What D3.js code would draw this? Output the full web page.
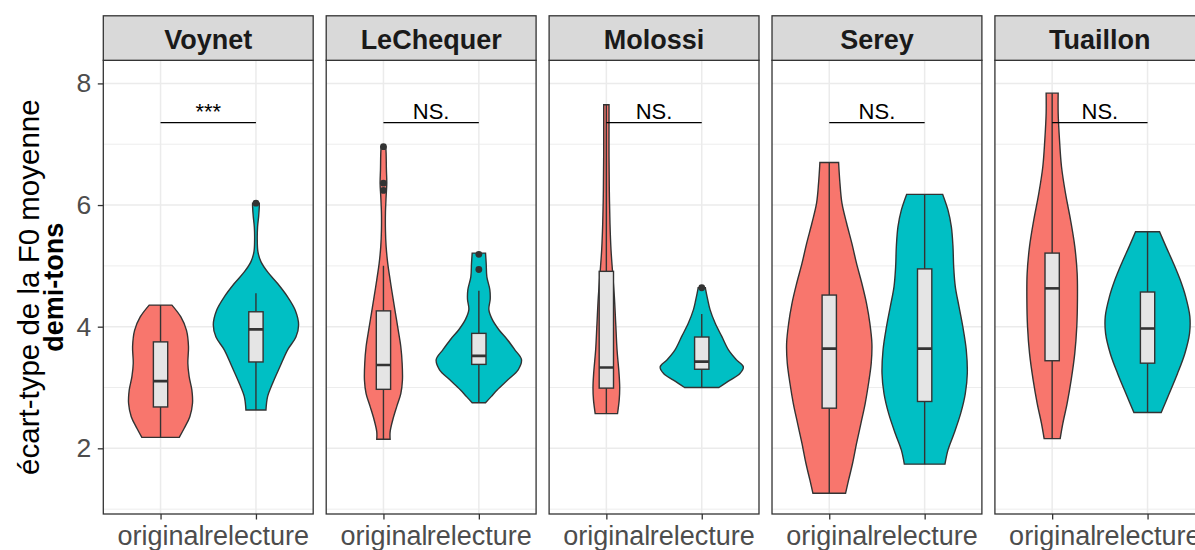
<!DOCTYPE html>
<html>
<head>
<meta charset="utf-8">
<script src="https://cdnjs.cloudflare.com/ajax/libs/d3/7.8.5/d3.min.js"></script>
<style>
  body { margin: 0; background: #fff; }
  svg { display: block; font-family: "Liberation Sans", Arial, Helvetica, sans-serif; }
</style>
</head>
<body>
<svg id="chart" width="1195" height="550"></svg>
<script>
"use strict";

// Data //////////////////////////////////////////////////
var speakers = ["Voynet", "LeChequer", "Molossi", "Serey", "Tuaillon"];
var conditions = ["original", "relecture"];
var yTicks = [2, 4, 6, 8];
var yMinor = [1, 3, 5, 7];
var signif = ["***", "NS.", "NS.", "NS.", "NS."];
var signifY = 7.355;

// boxplot stats: [lower whisker, q1, median, q3, upper whisker]
var boxOriginal = [
  [2.18, 2.68, 3.105, 3.75, 4.355],
  [2.15, 2.97, 3.37, 4.26, 5.0],
  [2.57, 2.99, 3.33, 4.91, 7.65],
  [1.26, 2.66, 3.64, 4.52, 6.70],
  [2.16, 3.44, 4.63, 5.21, 7.84]
];
var boxRelecture = [
  [2.63, 3.42, 3.955, 4.245, 4.55],
  [2.75, 3.38, 3.52, 3.89, 4.59],
  [3.0, 3.30, 3.425, 3.83, 4.21],
  [1.74, 2.77, 3.64, 4.95, 6.175],
  [2.59, 3.40, 3.97, 4.57, 5.56]
];
var outOriginal = [[], [6.96, 6.36, 6.24], [], [], []];
var outRelecture = [[6.03], [5.19, 4.94], [4.64], [], []];

// violin density: [value, density]
var violinOriginal = [
  [[4.355,0.119],[4.16,0.213],[3.94,0.272],[3.67,0.293],[3.40,0.286],[3.18,0.30],[2.96,0.328],[2.74,0.335],[2.52,0.307],[2.33,0.248],[2.18,0.196]],
  [[6.96,0.024],[6.85,0.028],[6.58,0.031],[6.36,0.035],[6.14,0.028],[5.87,0.021],[5.59,0.021],[5.32,0.028],[5.04,0.045],[4.77,0.07],[4.49,0.098],[4.22,0.126],[3.95,0.154],[3.67,0.182],[3.40,0.196],[3.12,0.199],[2.90,0.182],[2.69,0.14],[2.47,0.098],[2.27,0.07],[2.15,0.07]],
  [[7.65,0.028],[7.35,0.028],[6.80,0.028],[6.25,0.031],[5.70,0.038],[5.26,0.049],[4.88,0.066],[4.49,0.084],[4.06,0.098],[3.62,0.112],[3.23,0.133],[3.0,0.14],[2.8,0.135],[2.57,0.117]],
  [[6.70,0.098],[6.36,0.112],[6.03,0.133],[5.70,0.182],[5.37,0.237],[5.04,0.286],[4.71,0.342],[4.38,0.391],[4.05,0.426],[3.72,0.447],[3.40,0.44],[3.07,0.412],[2.74,0.377],[2.41,0.332],[2.08,0.286],[1.75,0.244],[1.48,0.203],[1.26,0.171]],
  [[7.84,0.063],[7.51,0.063],[7.07,0.077],[6.63,0.098],[6.19,0.14],[5.76,0.192],[5.32,0.237],[4.88,0.262],[4.44,0.265],[4.0,0.258],[3.56,0.237],[3.12,0.199],[2.74,0.157],[2.41,0.112],[2.16,0.084]]
];
var violinRelecture = [
  [[6.03,0.035],[5.97,0.035],[5.81,0.028],[5.64,0.017],[5.42,0.014],[5.23,0.021],[5.07,0.052],[4.90,0.122],[4.71,0.227],[4.49,0.332],[4.27,0.412],[4.03,0.447],[3.83,0.419],[3.62,0.332],[3.34,0.251],[3.07,0.175],[2.85,0.122],[2.63,0.105]],
  [[5.21,0.07],[5.04,0.077],[4.82,0.084],[4.61,0.115],[4.45,0.119],[4.28,0.105],[4.12,0.14],[3.95,0.21],[3.79,0.297],[3.62,0.377],[3.46,0.447],[3.29,0.412],[3.13,0.307],[2.96,0.192],[2.85,0.129],[2.75,0.07]],
  [[4.64,0.038],[4.60,0.042],[4.44,0.063],[4.28,0.087],[4.06,0.14],[3.84,0.21],[3.62,0.28],[3.45,0.367],[3.34,0.436],[3.23,0.40],[3.12,0.297],[3.0,0.18]],
  [[6.175,0.189],[5.92,0.244],[5.64,0.28],[5.31,0.297],[4.99,0.304],[4.66,0.321],[4.33,0.36],[4.0,0.40],[3.62,0.436],[3.23,0.447],[2.90,0.426],[2.57,0.377],[2.24,0.307],[1.97,0.244],[1.74,0.213]],
  [[5.56,0.126],[5.32,0.192],[5.04,0.272],[4.77,0.342],[4.49,0.40],[4.17,0.443],[3.89,0.44],[3.56,0.391],[3.23,0.314],[2.90,0.227],[2.59,0.143]]
];

var fills = { original: "#F8766D", relecture: "#00BFC4" };

// Layout ////////////////////////////////////////////////
var svg = d3.select("#chart"),
    stripTop = 15.8,
    panelTop = 60.3,
    panelBottom = 514,
    lw = 1.4;

var fx = d3.scaleBand().domain(speakers).range([103.3, 1204.8]).paddingInner(0.0584);
var x = d3.scalePoint().domain(conditions).range([0, fx.bandwidth()]).padding(0.6);
var y = d3.scaleLinear().domain([0.92, 8.38]).range([panelBottom, panelTop]);
var w = d3.scaleLinear().domain([0, 1]).range([0, x.step()]);
var boxHalf = w(0.075);

svg.append("defs").append("clipPath").attr("id", "clip")
  .append("rect").attr("x", 0).attr("y", panelTop)
  .attr("width", fx.bandwidth()).attr("height", panelBottom - panelTop);

var violinArea = function(cx) {
  return d3.area()
    .curve(d3.curveCatmullRom.alpha(0.5))
    .y(function(d) { return y(d[0]); })
    .x0(function(d) { return cx - w(d[1]); })
    .x1(function(d) { return cx + w(d[1]); });
};

// Panels ////////////////////////////////////////////////
speakers.forEach(function(sp, i) {
  var g = svg.append("g").attr("transform", "translate(" + fx(sp) + ",0)");
  var inner = g.append("g").attr("clip-path", "url(#clip)");

  inner.append("rect")
    .attr("x", 0).attr("y", panelTop)
    .attr("width", fx.bandwidth()).attr("height", panelBottom - panelTop)
    .attr("fill", "#fff");

  // Gridlines
  inner.selectAll(".minor").data(yMinor).enter().append("line")
    .attr("x1", 0).attr("x2", fx.bandwidth())
    .attr("y1", function(d) { return y(d); }).attr("y2", function(d) { return y(d); })
    .attr("stroke", "#EBEBEB").attr("stroke-width", 0.9);
  inner.selectAll(".major").data(yTicks).enter().append("line")
    .attr("x1", 0).attr("x2", fx.bandwidth())
    .attr("y1", function(d) { return y(d); }).attr("y2", function(d) { return y(d); })
    .attr("stroke", "#EBEBEB").attr("stroke-width", 1.5);
  inner.selectAll(".vgrid").data(conditions).enter().append("line")
    .attr("x1", function(d) { return x(d); }).attr("x2", function(d) { return x(d); })
    .attr("y1", panelTop).attr("y2", panelBottom)
    .attr("stroke", "#EBEBEB").attr("stroke-width", 1.5);

  var sets = [
    { cond: "original", dens: violinOriginal[i], box: boxOriginal[i], out: outOriginal[i] },
    { cond: "relecture", dens: violinRelecture[i], box: boxRelecture[i], out: outRelecture[i] }
  ];

  sets.forEach(function(s) {
    var cx = x(s.cond), b = s.box;

    // Violin
    inner.append("path")
      .datum(s.dens)
      .attr("d", violinArea(cx))
      .attr("fill", fills[s.cond])
      .attr("stroke", "#333").attr("stroke-width", lw);

    // Whiskers
    inner.append("line")
      .attr("x1", cx).attr("x2", cx).attr("y1", y(b[4])).attr("y2", y(b[3]))
      .attr("stroke", "#333").attr("stroke-width", lw);
    inner.append("line")
      .attr("x1", cx).attr("x2", cx).attr("y1", y(b[1])).attr("y2", y(b[0]))
      .attr("stroke", "#333").attr("stroke-width", lw);

    // Box
    inner.append("rect")
      .attr("x", cx - boxHalf).attr("width", boxHalf * 2)
      .attr("y", y(b[3])).attr("height", y(b[1]) - y(b[3]))
      .attr("fill", "#E5E5E5")
      .attr("stroke", "#333").attr("stroke-width", lw);
    inner.append("line")
      .attr("x1", cx - boxHalf).attr("x2", cx + boxHalf)
      .attr("y1", y(b[2])).attr("y2", y(b[2]))
      .attr("stroke", "#333").attr("stroke-width", 2.6);

    // Outliers
    inner.selectAll(null).data(s.out).enter().append("circle")
      .attr("cx", cx).attr("cy", function(d) { return y(d); })
      .attr("r", 3.4).attr("fill", "#333");
  });

  // Significance bar
  var ys = y(signifY);
  inner.append("line")
    .attr("x1", x("original")).attr("x2", x("relecture"))
    .attr("y1", ys).attr("y2", ys)
    .attr("stroke", "#000").attr("stroke-width", 1.4);
  inner.append("text")
    .attr("x", (x("original") + x("relecture")) / 2).attr("y", ys - 4)
    .attr("text-anchor", "middle")
    .style("font-size", "22px").attr("fill", "#000")
    .text(signif[i]);

  // Border
  g.append("rect")
    .attr("x", 0).attr("y", panelTop)
    .attr("width", fx.bandwidth()).attr("height", panelBottom - panelTop)
    .attr("fill", "none").attr("stroke", "#333").attr("stroke-width", 1.3);

  // Strip
  g.append("rect")
    .attr("x", 0).attr("y", stripTop)
    .attr("width", fx.bandwidth()).attr("height", panelTop - stripTop)
    .attr("fill", "#D9D9D9").attr("stroke", "#333").attr("stroke-width", 1.3);
  g.append("text")
    .attr("x", fx.bandwidth() / 2).attr("y", 49)
    .attr("text-anchor", "middle")
    .style("font-size", "27px").style("font-weight", "bold")
    .attr("fill", "#1A1A1A")
    .text(sp);

  // X axis
  var xa = g.append("g")
    .attr("transform", "translate(0," + panelBottom + ")")
    .call(d3.axisBottom(x).tickSize(5.5).tickPadding(6.3));
  xa.select(".domain").remove();
  xa.selectAll(".tick line").attr("stroke", "#333").attr("stroke-width", 1.3);
  xa.selectAll(".tick text")
    .style("font-size", "27px").style("font-family", "'Liberation Sans', Arial, sans-serif")
    .attr("fill", "#4D4D4D");
});

// Y axis ////////////////////////////////////////////////
var ya = svg.append("g")
  .attr("transform", "translate(" + fx(speakers[0]) + ",0)")
  .call(d3.axisLeft(y).tickValues(yTicks).tickSize(5.5).tickPadding(6.5));
ya.select(".domain").remove();
ya.selectAll(".tick line").attr("stroke", "#333").attr("stroke-width", 1.3);
ya.selectAll(".tick text")
  .style("font-size", "26.5px").style("font-family", "'Liberation Sans', Arial, sans-serif")
  .attr("fill", "#4D4D4D");

var yMid = (panelTop + panelBottom) / 2;
svg.append("text")
  .attr("transform", "translate(39," + yMid + ") rotate(-90)")
  .attr("text-anchor", "middle")
  .style("font-size", "29.5px").attr("fill", "#000")
  .text("écart-type de la F0 moyenne");
svg.append("text")
  .attr("transform", "translate(63," + yMid + ") rotate(-90)")
  .attr("text-anchor", "middle")
  .style("font-size", "27px").style("font-weight", "bold").attr("fill", "#000")
  .text("demi-tons");
</script>
</body>
</html>
